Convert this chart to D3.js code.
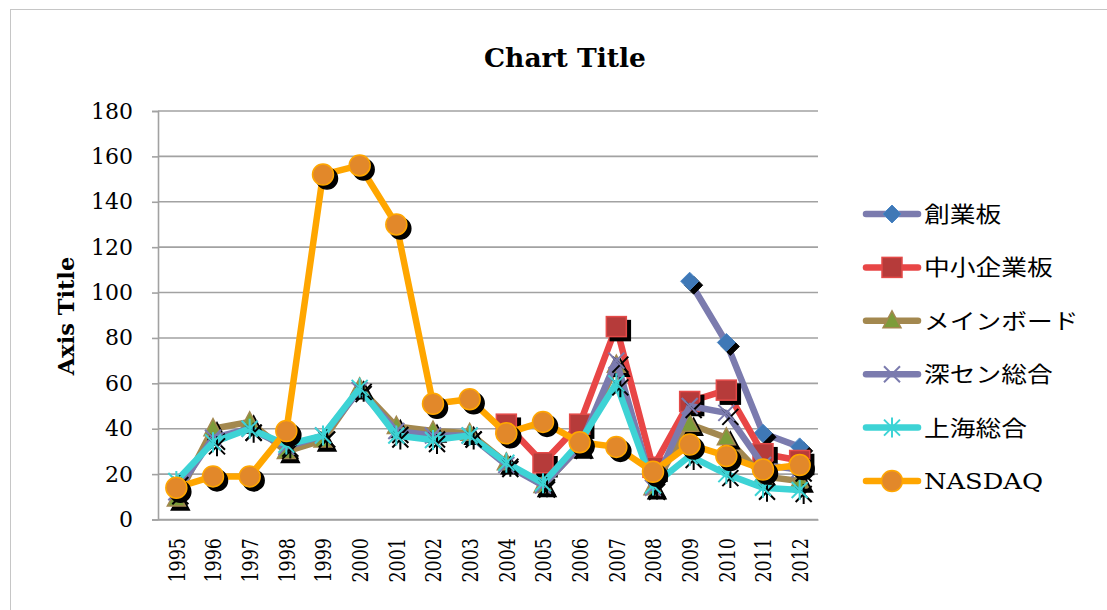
<html>
<head>
<meta charset="utf-8">
<script src="https://d3js.org/d3.v7.min.js"></script>
<style>
  body { margin: 0; background: #fff; }
  text { font-family: "DejaVu Serif", serif; fill: #000; }
  .cjk { font-family: "Noto Sans CJK JP", sans-serif; }
</style>
</head>
<body>
<svg width="1107" height="610"></svg>
<script>
// data
var years = ["1995","1996","1997","1998","1999","2000","2001","2002","2003","2004",
             "2005","2006","2007","2008","2009","2010","2011","2012"];
var sogyoban   = [null,null,null,null,null,null,null,null,null,null,null,null,null,null,105,78,38,32];
var chusho     = [null,null,null,null,null,null,null,null,null,42,25,42,85,23,52,57,29,26];
var mainboard  = [9,40,43,30,35,58,41,39,38,25,15,32,68,14,42,36,19,17];
var shenzhen   = [12,36,40,32,37,57,39,37,37,24,15,32,70,14,50,47,24,22];
var shanghai   = [17,34,40,33,37,58,37,35,37,25,16,34,60,15,28,20,14,13];
var nasdaq     = [14,19,19,39,152,156,130,51,53,38,43,34,32,21,33,28,22,24];
var yTicks = [0,20,40,60,80,100,120,140,160,180];

var seriesNames = ["創業板","中小企業板","メインボード","深セン総合","上海総合","NASDAQ"];
var seriesVals = [sogyoban, chusho, mainboard, shenzhen, shanghai, nasdaq];
var lineColors = ["#7b7bae","#e84646","#a3884f","#7b7bae","#3dd3d5","#ffa600"];
var markerKind = ["diamond","square","triangle","cross","star","circle"];
var markerFill = ["#3f78b6","#b63b3a","#7d9c3a","none","none","#e2882a"];
var markerStroke = ["#4a86c6","#e44a48","#a3884f","#7b7bae","#3dd3d5","#ffa600"];

var svg = d3.select("svg");

// outer frame
svg.append("rect")
   .attr("x", 10.5).attr("y", 9.5)
   .attr("width", 1120).attr("height", 620)
   .attr("fill", "none").attr("stroke", "#c6c6c6");

var pLeft = 158, pRight = 818, pTop = 111, pBottom = 519.5;

var x = d3.scaleBand().domain(years).range([pLeft, pRight]);
var y = d3.scaleLinear().domain([0, 180]).range([pBottom, pTop]);

// gridlines
svg.append("g").selectAll("line")
   .data(yTicks)
   .enter().append("line")
   .attr("x1", pLeft).attr("x2", pRight)
   .attr("y1", function(d) { return y(d); })
   .attr("y2", function(d) { return y(d); })
   .attr("stroke", "#a2a2a2")
   .attr("stroke-width", 1.6);

// y axis
var yAxis = svg.append("g")
   .attr("transform", "translate(" + pLeft + ",0)")
   .call(d3.axisLeft(y).tickValues(yTicks).tickSize(6).tickPadding(19));
yAxis.select(".domain").attr("stroke", "#a2a2a2").attr("stroke-width", 1.6);
yAxis.selectAll(".tick line").attr("stroke", "#a2a2a2").attr("stroke-width", 1.6);
yAxis.selectAll(".tick text")
   .attr("font-family", "DejaVu Serif")
   .attr("font-size", 22)
   .attr("fill", "#000");

// x axis
var xAxis = svg.append("g")
   .attr("transform", "translate(0," + pBottom + ")")
   .call(d3.axisBottom(x).tickSize(0).tickFormat(""));
xAxis.select(".domain").attr("stroke", "#a2a2a2").attr("stroke-width", 1.6);

svg.append("g").selectAll("text")
   .data(years)
   .enter().append("text")
   .attr("transform", function(d) {
       return "translate(" + (x(d) + x.bandwidth() / 2) + ",538) scale(1.3,1) rotate(-90)";
   })
   .attr("text-anchor", "end")
   .attr("dy", "0.36em")
   .attr("font-size", 17.5)
   .text(function(d) { return d; });

// titles
svg.append("text")
   .attr("x", 565).attr("y", 67)
   .attr("text-anchor", "middle")
   .attr("font-size", 26.5)
   .attr("font-weight", "bold")
   .text("Chart Title");

svg.append("text")
   .attr("transform", "translate(74,316) rotate(-90)")
   .attr("text-anchor", "middle")
   .attr("font-size", 22.5)
   .attr("font-weight", "bold")
   .text("Axis Title");

// markers
function drawMarker(g, kind, fill, stroke, shadow) {
    var f = shadow ? "#000" : fill, s = shadow ? "#000" : stroke;
    if (kind == "diamond") {
        g.append("path").attr("d", "M0,-9L9,0L0,9L-9,0Z").attr("fill", f).attr("stroke", s).attr("stroke-width", 1);
    } else if (kind == "square") {
        g.append("rect").attr("x", -10).attr("y", -10).attr("width", 20).attr("height", 20)
         .attr("fill", f).attr("stroke", s).attr("stroke-width", 1.5);
    } else if (kind == "triangle") {
        g.append("path").attr("d", "M0,-10L9,7L-9,7Z").attr("fill", f).attr("stroke", s).attr("stroke-width", 1.5);
    } else if (kind == "cross") {
        g.append("path").attr("d", "M-8,-8L8,8M-8,8L8,-8").attr("stroke", s).attr("stroke-width", 2);
    } else if (kind == "star") {
        g.append("path").attr("d", "M-8,-8L8,8M-8,8L8,-8M0,-10L0,10").attr("stroke", s).attr("stroke-width", 2);
    } else {
        g.append("circle").attr("r", 10.5).attr("fill", f).attr("stroke", s).attr("stroke-width", 1.5);
    }
}

var line = d3.line()
   .defined(function(d) { return d.v != null; })
   .x(function(d) { return x(d.year) + x.bandwidth() / 2; })
   .y(function(d) { return y(d.v); });

seriesVals.forEach(function(vals, i) {
    var pts = vals.map(function(v, j) { return { year: years[j], v: v }; });
    var g = svg.append("g");
    g.append("path")
     .datum(pts)
     .attr("d", line)
     .attr("fill", "none")
     .attr("stroke", lineColors[i])
     .attr("stroke-width", 6.5)
     .attr("stroke-linejoin", "round")
     .attr("stroke-linecap", "round");
    var real = pts.filter(function(d) { return d.v != null; });
    g.selectAll(".shadow")
     .data(real)
     .enter().append("g")
     .attr("class", "shadow")
     .attr("transform", function(d) { return "translate(" + (x(d.year) + x.bandwidth() / 2 + 4) + "," + (y(d.v) + 4) + ")"; })
     .each(function() { drawMarker(d3.select(this), markerKind[i], markerFill[i], markerStroke[i], true); });
    g.selectAll(".mk")
     .data(real)
     .enter().append("g")
     .attr("class", "mk")
     .attr("transform", function(d) { return "translate(" + (x(d.year) + x.bandwidth() / 2) + "," + y(d.v) + ")"; })
     .each(function() { drawMarker(d3.select(this), markerKind[i], markerFill[i], markerStroke[i], false); });
});

// legend
var legend = svg.append("g");
seriesNames.forEach(function(name, i) {
    var ly = 214 + i * 53.4;
    legend.append("line")
       .attr("x1", 866).attr("x2", 918)
       .attr("y1", ly).attr("y2", ly)
       .attr("stroke", lineColors[i])
       .attr("stroke-width", 6.5)
       .attr("stroke-linecap", "round");
    var mg = legend.append("g").attr("transform", "translate(892," + ly + ")");
    drawMarker(mg, markerKind[i], markerFill[i], markerStroke[i], false);
    legend.append("text")
       .attr("class", i < 5 ? "cjk" : null)
       .attr("transform", "translate(924," + ly + ") scale(1.17,1)")
       .attr("dy", "0.36em")
       .attr("font-size", 22)
       .text(name);
});
</script>
</body>
</html>
